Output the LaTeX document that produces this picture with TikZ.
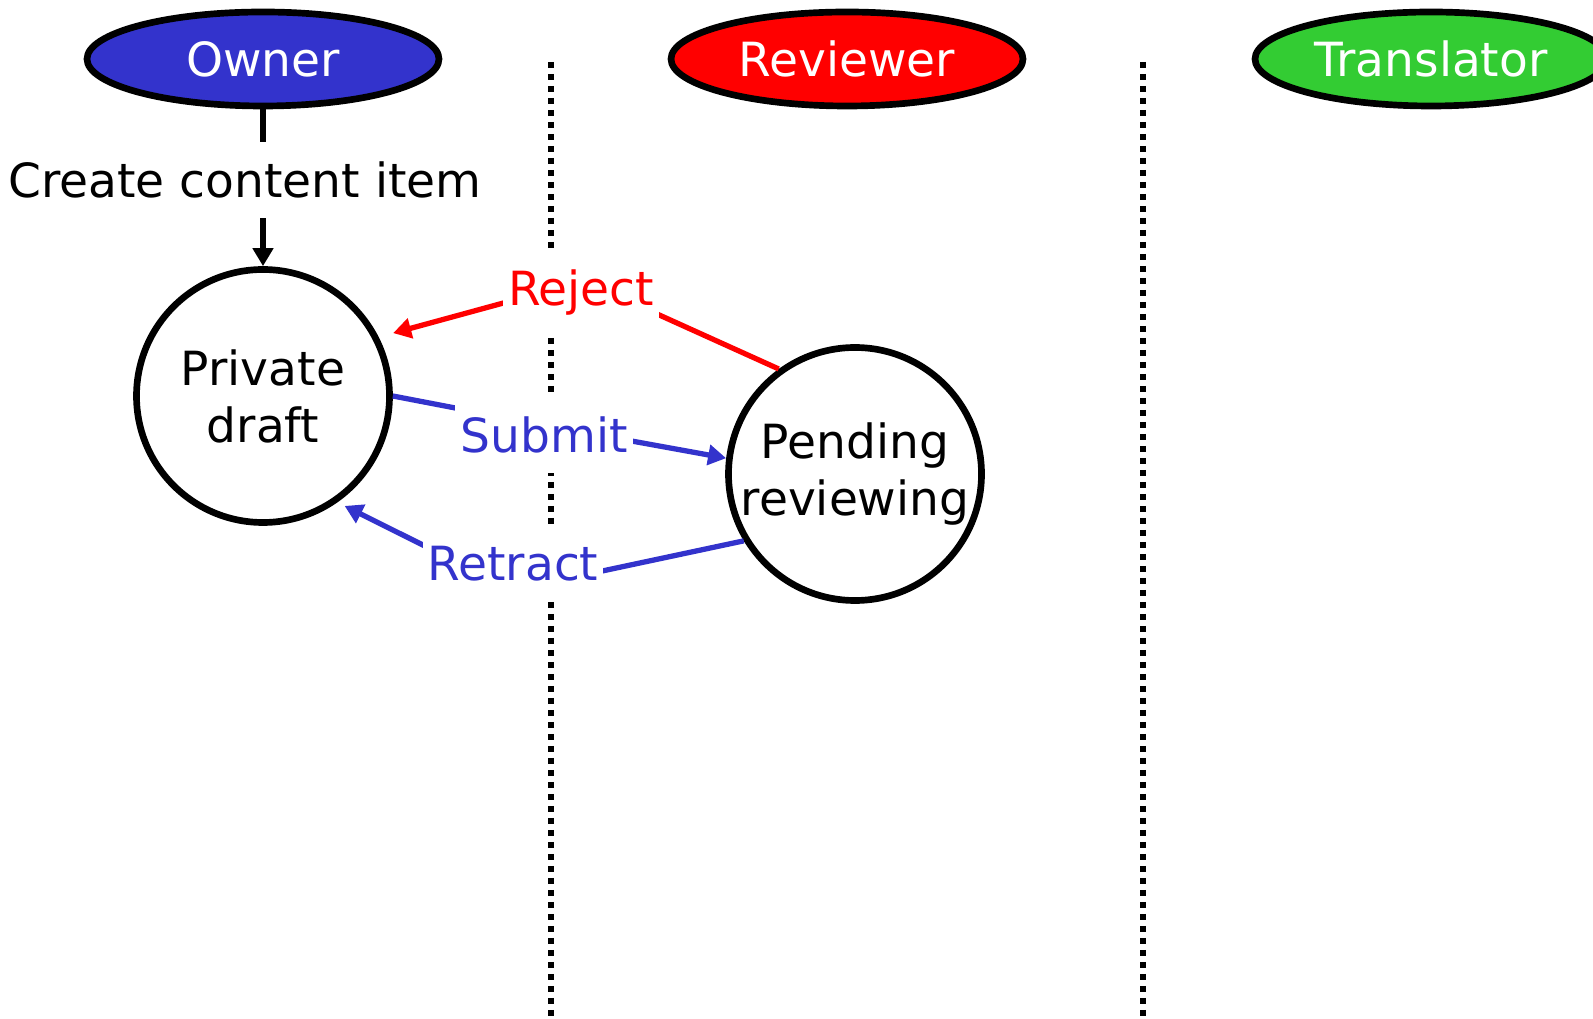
\documentclass[tikz,border=0pt]{standalone}
\usepackage{fontspec}
\setmainfont{DejaVu Sans}
\usetikzlibrary{arrows.meta,shapes.geometric,positioning}
\definecolor{ownblue}{HTML}{3333CC}
\definecolor{revred}{HTML}{FF0000}
\definecolor{trgreen}{HTML}{33CC33}
\tikzset{
    role/.style = {draw, ellipse, line width=1.9pt, text=white,
                 minimum width=35.2mm, minimum height=9.4mm, inner sep=0pt},
    phase/.style = {draw, circle, line width=1.9pt, minimum size=25.3mm,
                 inner sep=0pt, align=center},
    act/.style = {fill=white, inner xsep=0.5mm, inner ysep=2mm},
    lane/.style = {line width=1.7pt, dash pattern=on 0.6mm off 0.6mm},
}

\begin{document}
\begin{tikzpicture}[x=0.1mm,y=-0.1mm,>={Triangle[length=1.8mm,width=2mm]},
    line width=1.5pt,font=\fontsize{13.4}{16.2}\selectfont]
\useasboundingbox (0,0) rectangle (1593,1019);

% swim lanes
\draw[lane] (551,62) -- (551,1019);
\draw[lane] (1143,62) -- (1143,1019);

\node (owner) [role, fill=ownblue] at (263,59) {Owner};
\node (reviewer) [role, fill=revred] at (847,59) {Reviewer};
\node (translator) [role, fill=trgreen] at (1431,59) {Translator};

\node (priv) [phase] at (263,396) {Private\\draft};
\node (pend) [phase] at (855,474) {Pending\\reviewing};

% bend points, hidden under the labels
\coordinate (rejbend) at (584,281);
\coordinate (subbend) at (549,426);
\coordinate (retbend) at (513,590);

\draw[->, revred, shorten >=1.5mm] (pend.126) -- (rejbend) -- (priv.27);
\draw[->, ownblue] (priv.0) -- (subbend) -- (pend.173);
\draw[->, ownblue, shorten >=0.8mm] (pend.211) -- (retbend) -- (priv.305);
\draw[->] (owner) -- node[act, xshift=-1.8mm, yshift=0.8mm] (create) {Create content item} (priv);

\node (reject) [act, text=revred] at (581,293) {Reject};
\node (submit) [act, text=ownblue] at (544,435) {Submit};
\node (retract) [act, text=ownblue] at (513,564) {Retract};

\end{tikzpicture}
\end{document}
